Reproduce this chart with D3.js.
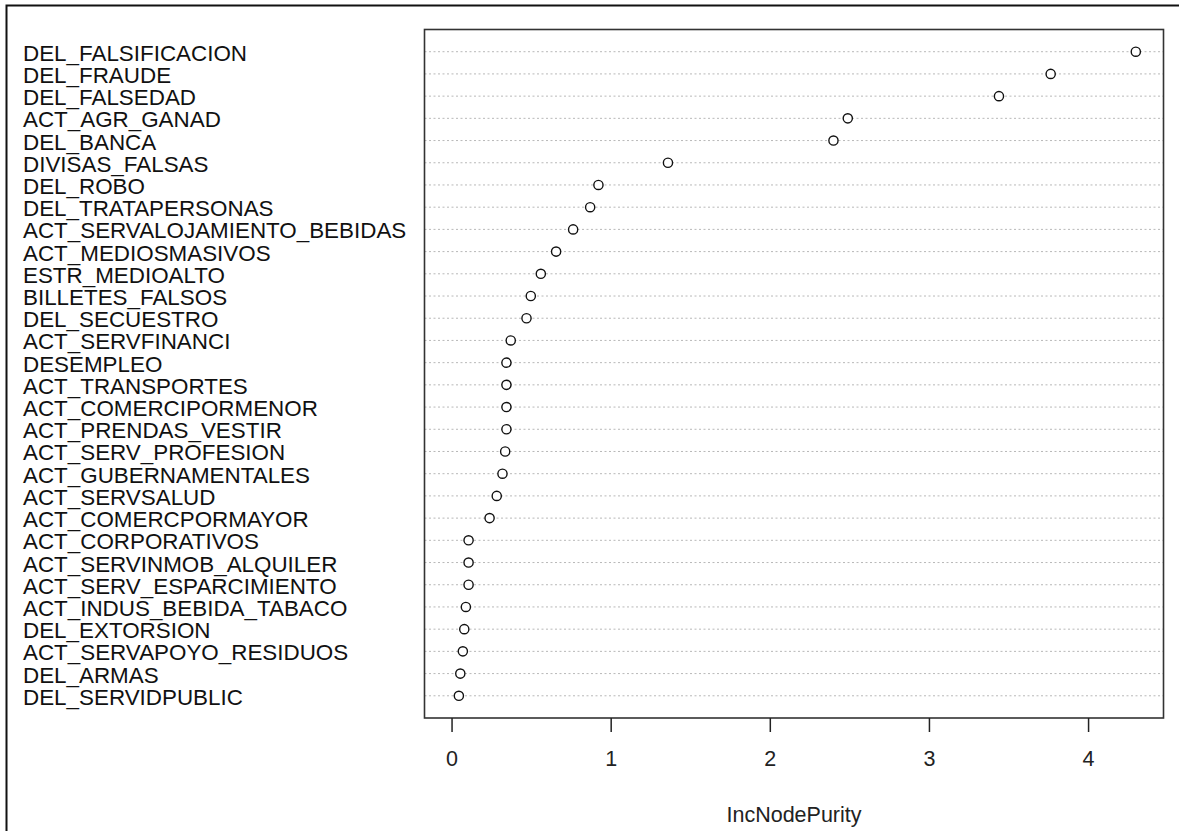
<!DOCTYPE html>
<html>
<head>
<meta charset="utf-8">
<script src="https://cdn.jsdelivr.net/npm/d3@7"></script>
<style>
  body { margin: 0; background: #fff; }
  svg { display: block; font-family: 'Liberation Sans', Arial, sans-serif; }
  .tick text { font-size: 21.5px; fill: #222; }
  .tick line { stroke: #222; stroke-width: 1.5; }
</style>
</head>
<body>
<svg id="chart" width="1179" height="831"></svg>
<script>
const variables = [
  'DEL_FALSIFICACION', 'DEL_FRAUDE', 'DEL_FALSEDAD', 'ACT_AGR_GANAD', 'DEL_BANCA',
  'DIVISAS_FALSAS', 'DEL_ROBO', 'DEL_TRATAPERSONAS', 'ACT_SERVALOJAMIENTO_BEBIDAS',
  'ACT_MEDIOSMASIVOS', 'ESTR_MEDIOALTO', 'BILLETES_FALSOS', 'DEL_SECUESTRO',
  'ACT_SERVFINANCI', 'DESEMPLEO', 'ACT_TRANSPORTES', 'ACT_COMERCIPORMENOR',
  'ACT_PRENDAS_VESTIR', 'ACT_SERV_PROFESION', 'ACT_GUBERNAMENTALES', 'ACT_SERVSALUD',
  'ACT_COMERCPORMAYOR', 'ACT_CORPORATIVOS', 'ACT_SERVINMOB_ALQUILER',
  'ACT_SERV_ESPARCIMIENTO', 'ACT_INDUS_BEBIDA_TABACO', 'DEL_EXTORSION',
  'ACT_SERVAPOYO_RESIDUOS', 'DEL_ARMAS', 'DEL_SERVIDPUBLIC'
]

const incNodePurity = [
  4.30, 3.765, 3.44, 2.49, 2.40,
  1.36, 0.923, 0.871, 0.764,
  0.657, 0.561, 0.498, 0.471,
  0.372, 0.345, 0.345, 0.345,
  0.345, 0.337, 0.320, 0.284,
  0.239, 0.107, 0.107,
  0.107, 0.090, 0.080,
  0.071, 0.055, 0.046
]

const xTicks = [0, 1, 2, 3, 4]
const xAxisLabel = 'IncNodePurity'

const svg = d3.select('#chart')
const data = variables.map((name, i) => ({ name, value: incNodePurity[i] }))

// outer frame (cropped on the right and bottom in the original)
svg.append('rect')
  .attr('x', 6.5).attr('y', 5.5)
  .attr('width', 1200).attr('height', 900)
  .attr('fill', 'none')
  .attr('stroke', '#111')
  .attr('stroke-width', 2)

const box = { left: 424.5, right: 1163.5, top: 29.5, bottom: 718 }

// R style extended range
const xScale = d3.scaleLinear()
  .domain([-0.17, 4.474])
  .range([box.left, box.right])

const yScale = d3.scalePoint()
  .domain(variables)
  .range([box.top, box.bottom])
  .padding(1)

const g = svg.append('g')

g.selectAll('.grid-line')
  .data(data)
  .enter().append('line')
  .attr('class', 'grid-line')
  .attr('x1', box.left).attr('x2', box.right)
  .attr('y1', d => yScale(d.name)).attr('y2', d => yScale(d.name))
  .attr('stroke', '#b8b8b8')
  .attr('stroke-width', 1)
  .attr('stroke-dasharray', '2,2.5')

g.selectAll('.dot')
  .data(data)
  .enter().append('circle')
  .attr('class', 'dot')
  .attr('cx', d => xScale(d.value))
  .attr('cy', d => yScale(d.name))
  .attr('r', 4.6)
  .attr('fill', '#fff')
  .attr('stroke', '#111')
  .attr('stroke-width', 1.4)

g.append('rect')
  .attr('x', box.left).attr('y', box.top)
  .attr('width', box.right - box.left)
  .attr('height', box.bottom - box.top)
  .attr('fill', 'none')
  .attr('stroke', '#333')
  .attr('stroke-width', 1.6)

svg.selectAll('.var-label')
  .data(data)
  .enter().append('text')
  .attr('class', 'var-label')
  .attr('x', 23)
  .attr('y', d => yScale(d.name) + 9)
  .attr('font-size', 22.4)
  .attr('fill', '#111')
  .text(d => d.name)

const xAxis = d3.axisBottom(xScale)
  .tickValues(xTicks)
  .tickFormat(d3.format('d'))
  .tickSize(14)
  .tickPadding(19)

const xAxisG = svg.append('g')
  .attr('transform', `translate(0, ${box.bottom})`)
  .call(xAxis)
xAxisG.select('.domain').remove()
xAxisG.selectAll('text').attr('font-family', null)

svg.append('text')
  .attr('x', (box.left + box.right) / 2)
  .attr('y', 822)
  .attr('text-anchor', 'middle')
  .attr('font-size', 21.5)
  .attr('fill', '#222')
  .text(xAxisLabel)
</script>
</body>
</html>
